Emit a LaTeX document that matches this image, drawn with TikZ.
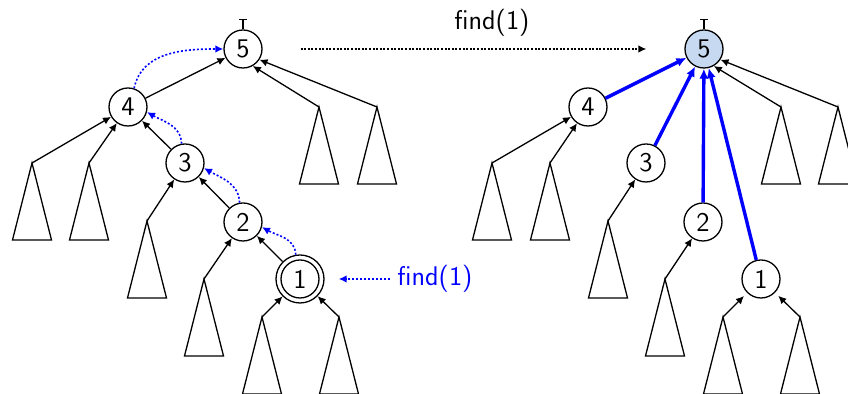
\documentclass[tikz,border=0pt]{standalone}
\usepackage{fontspec}
\usetikzlibrary{arrows.meta}
\definecolor{rootfill}{RGB}{198,217,240}
\begin{document}
\begin{tikzpicture}[x=0.5pt,y=0.5pt,
  font=\fontsize{13.5}{16}\selectfont\sffamily,
  vert/.style={circle,draw,line width=0.65pt,minimum size=19pt,inner sep=0pt},
  ptr/.style={line width=0.65pt,-{Latex[length=4pt,width=3.8pt]}},
  bptr/.style={blue,line width=1.7pt,-{Latex[length=5pt,width=4.6pt]}},
  bdot/.style={blue,line width=0.8pt,dash pattern=on 1pt off 1pt,-{Latex[length=4pt,width=3.8pt]}},
  kdot/.style={black,line width=0.65pt,dash pattern=on 1pt off 0.8pt,-{Latex[length=4pt,width=3.8pt]}},
  rootbar/.style={line width=0.65pt,-{Bar[width=4pt,line width=0.65pt]}},
  subtree/.pic={\draw[line width=0.65pt,line join=miter] (0,0) -- (-19.5,-77) -- (19.5,-77) -- cycle;}]
\useasboundingbox (0,0) rectangle (848,-394);
\clip (0,0) rectangle (848,-394);

% ---------- left tree ----------
\node[vert] (n5) at (243,-49) {5};
\node[vert] (n4) at (128,-107) {4};
\node[vert] (n3) at (185,-163) {3};
\node[vert] (n2) at (243,-222) {2};
\node[vert] (n1) at (300,-279) {1};
\node[vert,minimum size=24pt] (n1o) at (300,-279) {};
\coordinate (t5) at (243,-19);
\draw[rootbar] (n5.north) -- (t5);

\coordinate (a41) at (32,-163);
\coordinate (a42) at (89,-163);
\coordinate (a51) at (319,-107);
\coordinate (a52) at (377,-107);
\coordinate (a3) at (147,-221);
\coordinate (a2) at (204,-279);
\coordinate (a11) at (262,-317);
\coordinate (a12) at (339,-317);
\foreach \c in {a41,a42,a51,a52,a3,a2,a11,a12} \pic at (\c) {subtree};

\draw[ptr] (a41) -- (n4);
\draw[ptr] (a42) -- (n4);
\draw[ptr] (a51) -- (n5.-60);
\draw[ptr] (a52) -- (n5.-33);
\draw[ptr] (n4) -- (n5);
\draw[ptr] (n3) -- (n4);
\draw[ptr] (a3) -- (n3);
\draw[ptr] (n2) -- (n3);
\draw[ptr] (a2) -- (n2);
\draw[ptr] (n1o) -- (n2);
\draw[ptr] (a11) -- (n1o);
\draw[ptr] (a12) -- (n1o);

\draw[bdot] (n4.72) to[out=78,in=180] (n5.west);
\draw[bdot] (n3.100) to[out=92,in=-30] (n4.-15);
\draw[bdot] (n2.100) to[out=92,in=-30] (n3.-15);
\draw[bdot] (n1o.100) to[out=92,in=-30] (n2.-15);

\node[text=blue] (ftext) at (435,-279) {find(1)};
\draw[bdot,shorten >=7pt] (ftext.west) -- (n1o.east);

% ---------- right tree ----------
\node[vert,fill=rootfill] (n5r) at (704,-49) {5};
\node[vert] (n4r) at (588,-107) {4};
\node[vert] (n3r) at (646,-163) {3};
\node[vert] (n2r) at (703,-222) {2};
\node[vert] (n1r) at (761,-279) {1};
\coordinate (t5r) at (704,-19);
\draw[rootbar] (n5r.north) -- (t5r);

\coordinate (b41) at (492,-163);
\coordinate (b42) at (550,-163);
\coordinate (b51) at (781,-107);
\coordinate (b52) at (838,-107);
\coordinate (b3) at (608,-221);
\coordinate (b2) at (665,-279);
\coordinate (b11) at (723,-317);
\coordinate (b12) at (800,-317);
\foreach \c in {b41,b42,b51,b52,b3,b2,b11,b12} \pic at (\c) {subtree};

\draw[ptr] (b41) -- (n4r);
\draw[ptr] (b42) -- (n4r);
\draw[ptr] (b51) -- (n5r.-60);
\draw[ptr] (b52) -- (n5r.-33);
\draw[ptr] (b3) -- (n3r);
\draw[ptr] (b2) -- (n2r);
\draw[ptr,shorten >=2.2pt] (b11) -- (n1r);
\draw[ptr,shorten >=2.2pt] (b12) -- (n1r);

\draw[bptr] (n4r) -- (n5r);
\draw[bptr] (n3r) -- (n5r);
\draw[bptr] (n2r) -- (n5r);
\draw[bptr] (n1r) -- (n5r);

% ---------- transition ----------
\draw[kdot,shorten <=19pt,shorten >=19pt] (n5.east) -- (n5r.west);
\node (flabel) at (492,-23) {find(1)};
\end{tikzpicture}
\end{document}
